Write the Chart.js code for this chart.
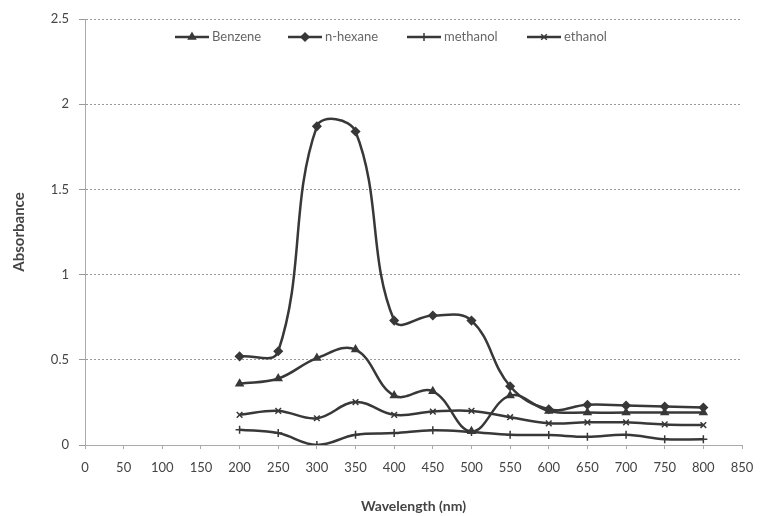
<!DOCTYPE html>
<html>
<head>
<meta charset="utf-8">
<script src="https://cdn.jsdelivr.net/npm/chart.js@4/dist/chart.umd.min.js"></script>
<style>
  html, body { margin: 0; padding: 0; background: #fff; }
  #wrap { width: 760px; height: 516px; }
</style>
</head>
<body>
<div id="wrap"><canvas id="absChart" width="760" height="516"></canvas></div>
<script>
// Wavelength (nm) of each measurement
const wavelengths = [200, 250, 300, 350, 400, 450, 500, 550, 600, 650, 700, 750, 800];

// Absorbance
const benzene = [0.36, 0.39, 0.51, 0.56, 0.29, 0.315, 0.08, 0.29, 0.20, 0.19, 0.19, 0.19, 0.19];
const nHexane = [0.52, 0.55, 1.87, 1.84, 0.73, 0.76, 0.73, 0.345, 0.21, 0.236, 0.232, 0.226, 0.22];
const methanol = [0.09, 0.07, 0.0, 0.06, 0.07, 0.087, 0.077, 0.06, 0.058, 0.048, 0.06, 0.034, 0.034];
const ethanol = [0.177, 0.20, 0.157, 0.252, 0.177, 0.196, 0.20, 0.163, 0.127, 0.133, 0.133, 0.121, 0.117];

const seriesNames = ['Benzene', 'n-hexane', 'methanol', 'ethanol'];
const seriesMarkers = ['triangle', 'rectRot', 'cross', 'crossRot'];

const yTicks = [0, 0.5, 1, 1.5, 2, 2.5];

const lineColor = '#383838';
const textColor = '#444';
const fontFamily = 'Lato, "Open Sans", "Liberation Sans", sans-serif';

function toPoints(values) {
    return wavelengths.map((w, i) => ({ x: w, y: values[i] }));
}

function makeDataset(label, values, marker) {
    return {
        label: label,
        data: toPoints(values),
        borderColor: lineColor,
        backgroundColor: lineColor,
        borderWidth: 2.5,
        tension: 0.4,
        pointStyle: marker,
        pointRadius: 4,
        pointBorderWidth: 1.5,
        pointBorderColor: lineColor,
        pointBackgroundColor: lineColor,
        fill: false
    };
}

// Legend drawn inside the plot area, like the original
const insideLegend = {
    id: 'insideLegend',
    afterDraw(chart) {
        const ctx = chart.ctx;
        const y = 37;
        const starts = [175, 288, 407, 527];
        ctx.save();
        ctx.font = '13px ' + fontFamily;
        ctx.textBaseline = 'middle';
        chart.data.datasets.forEach((ds, i) => {
            const x0 = starts[i];
            ctx.strokeStyle = lineColor;
            ctx.lineWidth = 2.5;
            ctx.beginPath();
            ctx.moveTo(x0, y);
            ctx.lineTo(x0 + 34, y);
            ctx.stroke();
            if (Chart.helpers && Chart.helpers.drawPoint) {
                ctx.fillStyle = lineColor;
                ctx.lineWidth = 1.5;
                Chart.helpers.drawPoint(ctx, { pointStyle: ds.pointStyle, radius: 4, rotation: 0, borderWidth: 1.5 }, x0 + 17, y);
            }
            ctx.fillStyle = '#666';
            ctx.fillText(ds.label, x0 + 37, y);
        });
        ctx.restore();
    }
};

const ctx = document.getElementById('absChart').getContext('2d');
const absChart = new Chart(ctx, {
    type: 'line',
    data: {
        datasets: [
            makeDataset(seriesNames[0], benzene, seriesMarkers[0]),
            makeDataset(seriesNames[1], nHexane, seriesMarkers[1]),
            makeDataset(seriesNames[2], methanol, seriesMarkers[2]),
            makeDataset(seriesNames[3], ethanol, seriesMarkers[3])
        ]
    },
    options: {
        responsive: false,
        animation: false,
        layout: {
            padding: { left: 0, right: 18, top: 19, bottom: 0 }
        },
        plugins: {
            legend: { display: false },
            tooltip: { enabled: false }
        },
        scales: {
            x: {
                type: 'linear',
                min: 0,
                max: 850,
                afterFit: function(scale) {
                    scale.height = 71;
                    scale.paddingLeft = 0;
                    scale.paddingRight = 0;
                },
                ticks: {
                    stepSize: 50,
                    color: textColor,
                    padding: 11,
                    font: { family: fontFamily, size: 13 },
                    maxRotation: 0,
                    autoSkip: false
                },
                grid: {
                    drawOnChartArea: false,
                    drawTicks: true,
                    tickLength: 4,
                    color: '#aaa'
                },
                border: { color: '#aaa', width: 1 },
                title: {
                    display: true,
                    text: 'Wavelength (nm)',
                    color: textColor,
                    font: { family: fontFamily, size: 14, weight: 'bold' },
                    padding: { top: 4, bottom: 1 }
                }
            },
            y: {
                min: 0,
                max: 2.5,
                afterFit: function(scale) {
                    scale.width = 85;
                    scale.paddingTop = 0;
                    scale.paddingBottom = 0;
                },
                afterBuildTicks: function(scale) {
                    scale.ticks = yTicks.map(v => ({ value: v }));
                },
                ticks: {
                    color: textColor,
                    padding: 10,
                    font: { family: fontFamily, size: 13 },
                    callback: function(value) { return String(value); }
                },
                grid: {
                    color: '#999',
                    lineWidth: 1,
                    tickLength: 6
                },
                border: { color: '#aaa', width: 1, dash: [2, 2] },
                title: {
                    display: true,
                    text: 'Absorbance',
                    color: textColor,
                    font: { family: fontFamily, size: 15, weight: 'bold' },
                    padding: { top: 10, bottom: 0 }
                }
            }
        }
    },
    plugins: [insideLegend]
});
</script>
</body>
</html>
